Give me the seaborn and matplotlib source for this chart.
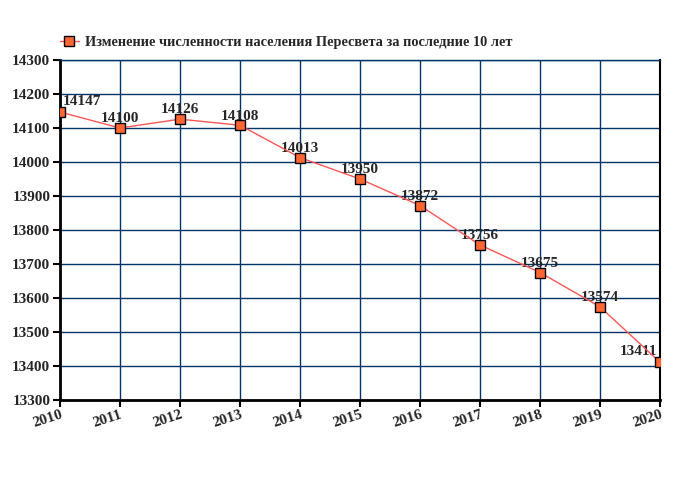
import matplotlib
matplotlib.use("Agg")
import matplotlib.pyplot as plt
import seaborn as sns
import pandas as pd

years = [2010, 2011, 2012, 2013, 2014, 2015, 2016, 2017, 2018, 2019, 2020]
population = [14147, 14100, 14126, 14108, 14013, 13950, 13872, 13756, 13675, 13574, 13411]
yticks = [13300, 13400, 13500, 13600, 13700, 13800, 13900, 14000, 14100, 14200, 14300]
legend_label = "Изменение численности населения Пересвета за последние 10 лет"

sns.set_style("white")
plt.rcParams['font.family'] = ['Liberation Serif', 'DejaVu Serif']

df = pd.DataFrame({"year": years, "pop": population})

fig = plt.figure(figsize=(6.8, 5.0), dpi=100)
ax = fig.add_axes([60/680, 1-400/500, 600/680, 340/500])

sns.lineplot(data=df, x="year", y="pop", ax=ax, color="#ff5555", linewidth=1,
             marker="s", markersize=7, markerfacecolor="#ff6633",
             markeredgecolor="black", markeredgewidth=1, label=legend_label, zorder=5)

ax.set_xlim(2010, 2020)
ax.set_ylim(13300, 14300)
ax.set_xticks(years)
ax.set_yticks(yticks)
ax.set_xticklabels([str(y) for y in years], rotation=18, ha="right",
                   rotation_mode="anchor", fontweight="bold", fontsize=11)
ax.set_yticklabels([str(v) for v in yticks], fontweight="bold", fontsize=11)
ax.set_xlabel("")
ax.set_ylabel("")
ax.grid(True, color="#003366", linewidth=1)
ax.set_axisbelow(True)
ax.tick_params(axis="both", length=5, width=1.5, color="black", direction="out",
               bottom=True, left=True, pad=2)
ax.tick_params(axis="x", pad=1)

for s in ["left", "bottom"]:
    ax.spines[s].set_color("black")
    ax.spines[s].set_linewidth(2)
ax.spines["right"].set_color("black")
ax.spines["right"].set_linewidth(1.5)
ax.spines["top"].set_color("#003366")
ax.spines["top"].set_linewidth(1)

for i, (x, y) in enumerate(zip(years, population)):
    if i == 0:
        ax.annotate(str(y), (x, y), xytext=(2, 3), textcoords="offset points",
                    ha="left", va="bottom", fontsize=11, fontweight="bold")
    elif i == len(years) - 1:
        ax.annotate(str(y), (x, y), xytext=(-2, 3), textcoords="offset points",
                    ha="right", va="bottom", fontsize=11, fontweight="bold")
    else:
        ax.annotate(str(y), (x, y), xytext=(0, 2), textcoords="offset points",
                    ha="center", va="bottom", fontsize=11, fontweight="bold")

leg = ax.legend(loc="lower left", bbox_to_anchor=(-0.01, 1.015), frameon=False,
                prop={"size": 10.4, "weight": "bold"}, handlelength=1.3,
                handletextpad=0.45, borderaxespad=0)

fig.savefig("out.png", dpi=100)
